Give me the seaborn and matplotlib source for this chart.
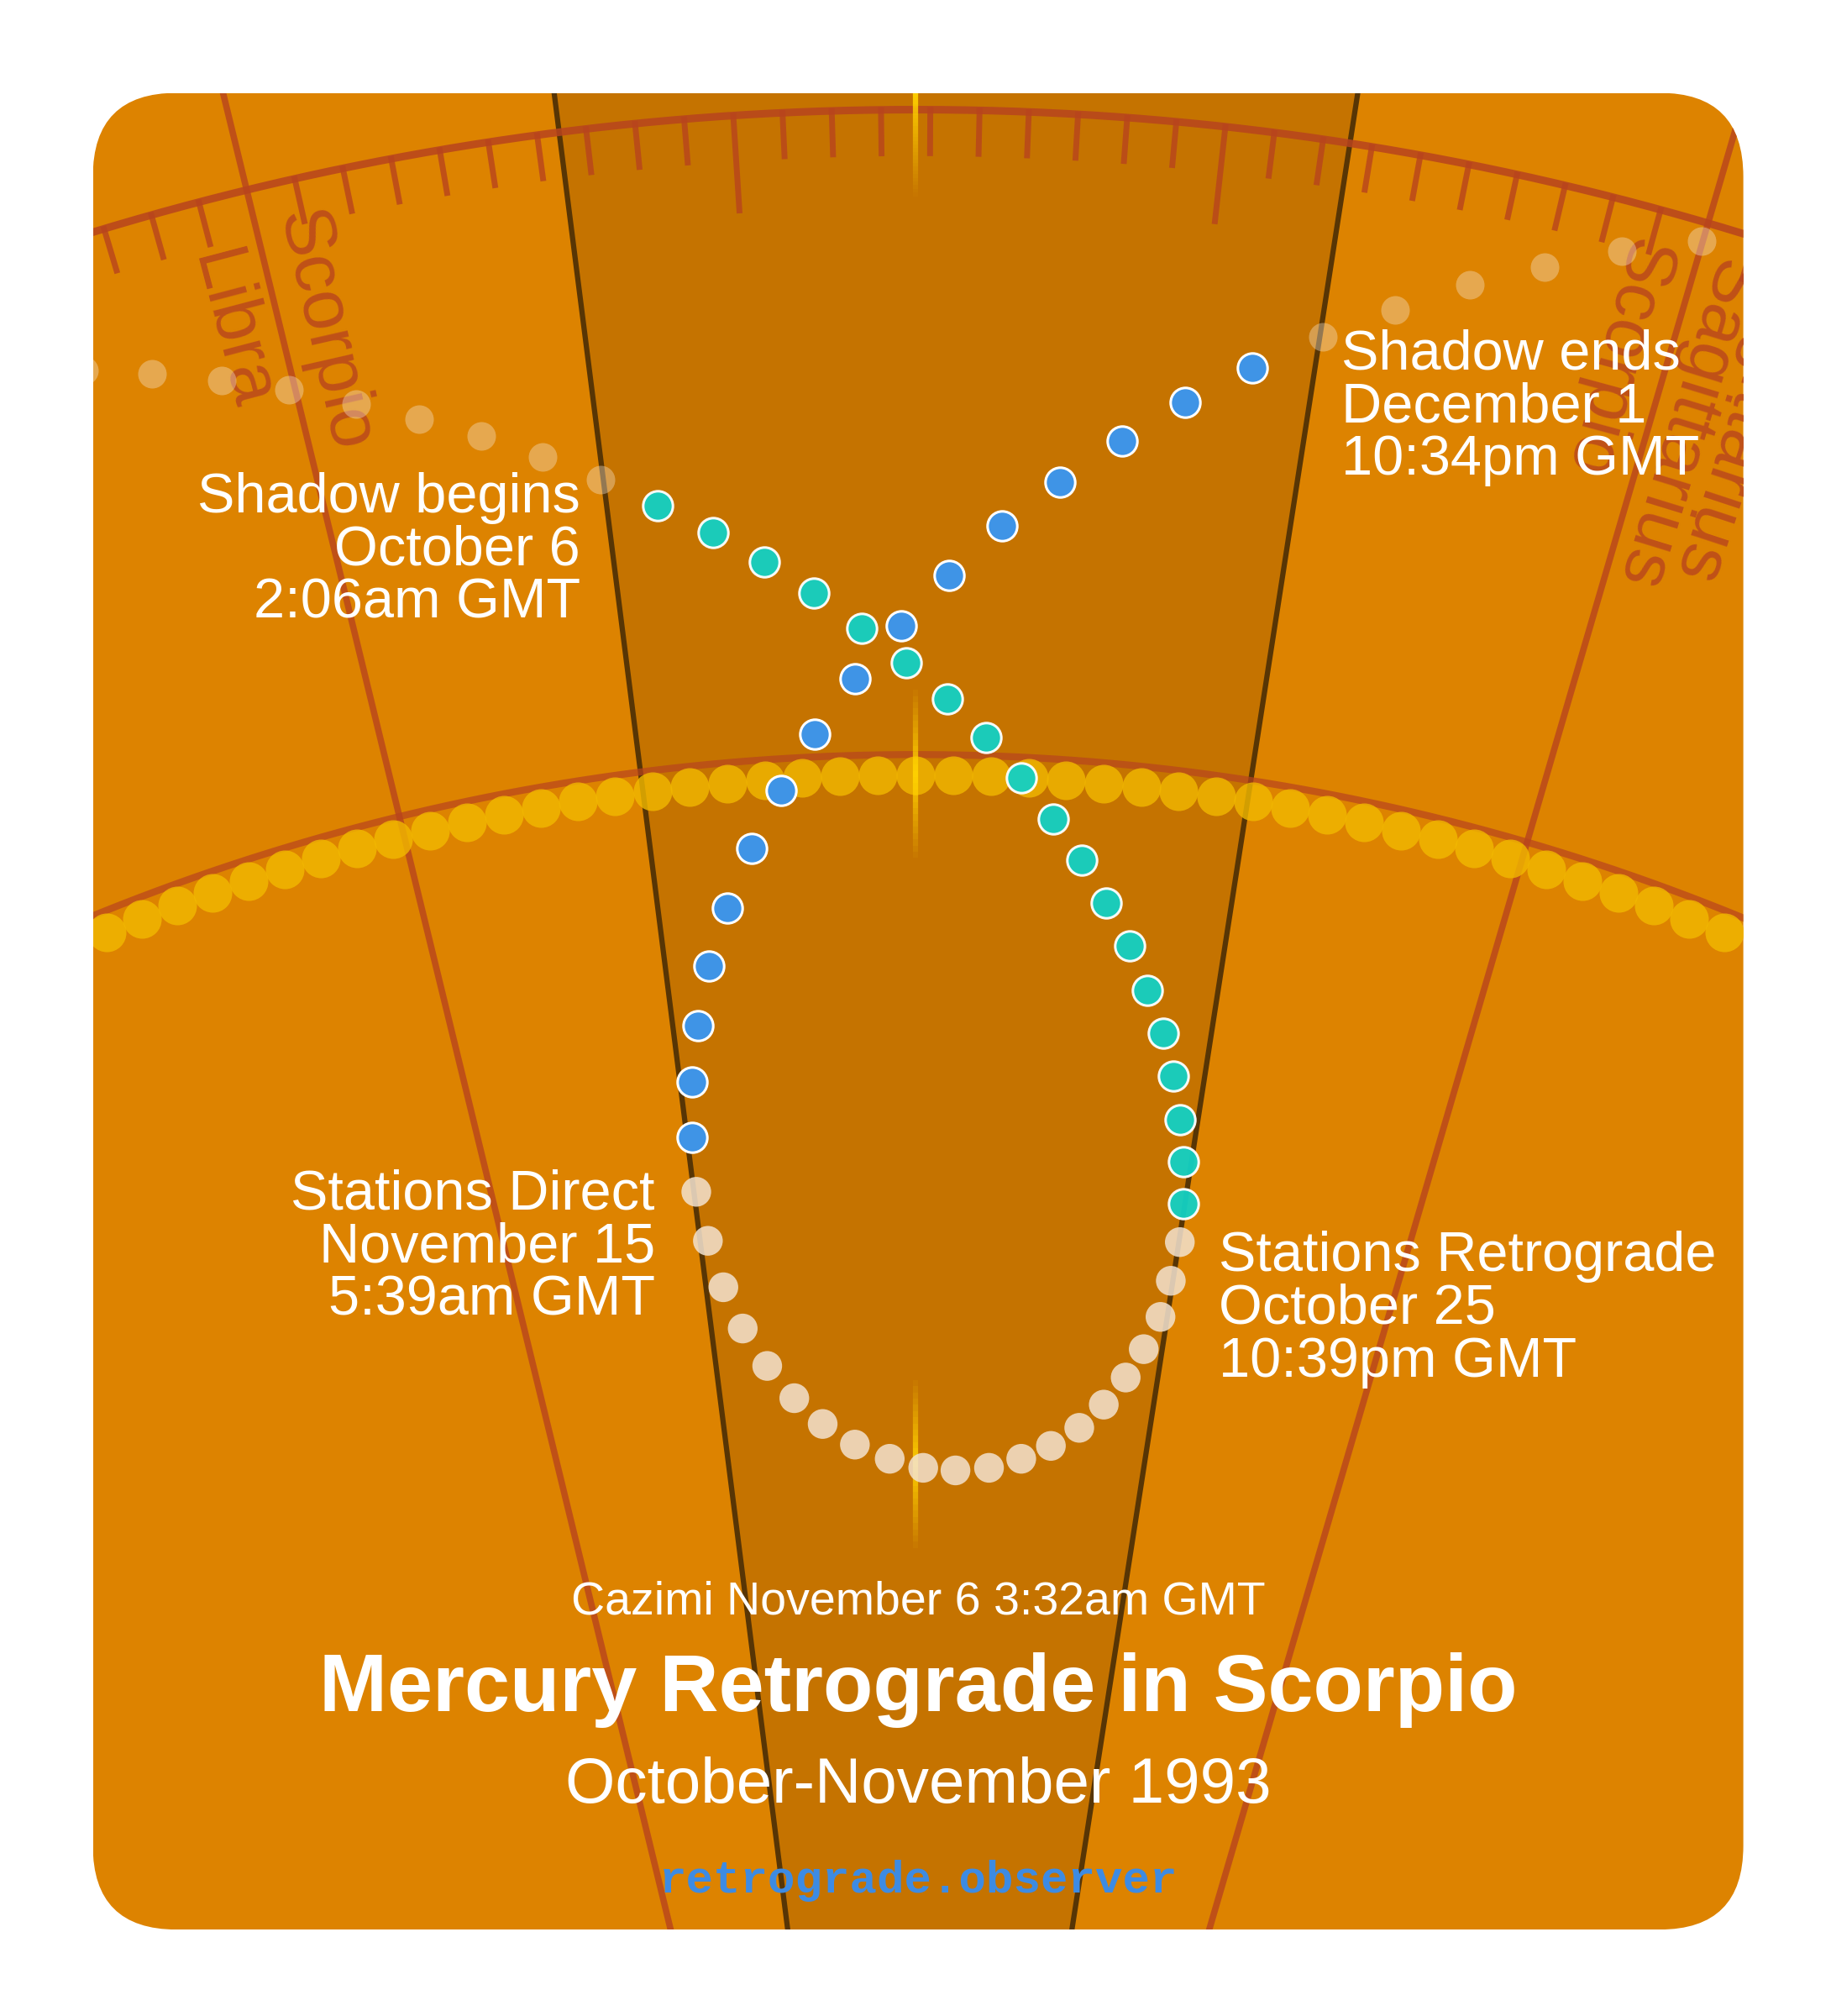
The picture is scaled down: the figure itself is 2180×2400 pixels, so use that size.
import numpy as np
import pandas as pd
import matplotlib
matplotlib.use("Agg")
import matplotlib.pyplot as plt
import seaborn as sns
from matplotlib.patches import FancyBboxPatch, Polygon, PathPatch
from matplotlib.path import Path

# ---------------- data (picture coordinates, y down) ----------------
pre_x = [65, 118, 172, 224, 276, 325, 373, 421, 466]
pre_y = [287, 290, 295, 302, 313, 325, 338, 354, 372]
post_x = [1026, 1082, 1140, 1198, 1258, 1320]
post_y = [261, 240, 221, 207, 195, 187]
shadow_in_x = [510, 553, 593, 631, 668, 703, 735, 765, 792, 817, 839, 858, 876, 890, 902, 910, 915, 918, 918]
shadow_in_y = [392, 413, 436, 460, 487, 514, 542, 572, 603, 635, 667, 700, 733, 768, 801, 834, 868, 901, 933]
retro_x = [915, 908, 900, 887, 873, 856, 837, 815, 792, 767, 741, 716, 690, 663, 638, 616, 595, 576, 561, 549, 540]
retro_y = [963, 993, 1021, 1046, 1068, 1089, 1107, 1121, 1131, 1138, 1140, 1138, 1131, 1120, 1104, 1084, 1059, 1030, 998, 962, 924]
shadow_out_x = [537, 537, 541, 550, 564, 583, 606, 632, 663, 699, 736, 777, 822, 870, 919, 971]
shadow_out_y = [882, 839, 795, 749, 704, 658, 613, 569, 526, 485, 446, 408, 374, 342, 312, 285]
sun_lon = [-22, -21, -20, -19, -18, -17, -16, -15, -14, -13, -12, -11, -10, -9, -8, -7, -6, -5, -4, -3,
           -2, -1, 0, 1, 2, 3, 4, 5, 6, 7, 8, 9, 10, 11, 12, 13, 14, 15, 16, 17, 18, 19, 20, 21, 22]
sign_bounds = [-13.7, 16.3]
sign_labels = [("Libra", -13.7, -1.05, 2150), ("Scorpio", -13.7, 0.9, 2165),
               ("Scorpio", 16.3, -1.1, 2165), ("Sagittarius", 16.3, 0.75, 2168),
               ("Sagittarius", 16.3, 1.95, 2185)]
shadow_bounds = [-7.25, 8.85]

labels = [
    ("Shadow begins\nOctober 6\n2:06am GMT", 450, 366, "right"),
    ("Shadow ends\nDecember 1\n10:34pm GMT", 1040, 255, "left"),
    ("Stations Direct\nNovember 15\n5:39am GMT", 508, 906, "right"),
    ("Stations Retrograde\nOctober 25\n10:39pm GMT", 945, 954, "left"),
]
cazimi_text = "Cazimi November 6 3:32am GMT"
title = "Mercury Retrograde in Scorpio"
subtitle = "October-November 1993"
site = "retrograde.observer"

# ---------------- geometry helpers ----------------
CX, CY = 710, 2275
def polar(theta_deg, r):
    t = np.radians(np.asarray(theta_deg, float))
    return CX + r * np.sin(t), CY - r * np.cos(t)

W, H = 1420, 1563
sns.set_theme(style="white")
plt.rcParams['font.family'] = ['Liberation Sans', 'DejaVu Sans']
fig = plt.figure(figsize=(21.8, 24), dpi=100)
ax = fig.add_axes([0, 0, 1, 1])
ax.set_xlim(0, W)
ax.set_ylim(H, 0)
ax.axis("off")
fig.patch.set_facecolor("white")

card = FancyBboxPatch((72, 72), 1280, 1424, boxstyle="round,pad=0,rounding_size=65",
                      fc="#DD8300", ec="none", zorder=0)
ax.add_patch(card)

def clip(a):
    a.set_clip_on(True)
    a.set_clip_path(card)
    return a

# shadow wedge
lx0, ly0 = polar(shadow_bounds[0], 2400); lx1, ly1 = polar(shadow_bounds[0], 500)
rx0, ry0 = polar(shadow_bounds[1], 2400); rx1, ry1 = polar(shadow_bounds[1], 500)
wedge = Polygon([(lx0, ly0), (rx0, ry0), (rx1, ry1), (lx1, ly1)], closed=True, fc="#C57300", ec="none", zorder=1)
ax.add_patch(wedge); clip(wedge)
for b in shadow_bounds:
    x, y = polar([b, b], [2400, 500])
    clip(ax.plot(x, y, color="#573505", lw=4.5, zorder=2, solid_capstyle="butt")[0])

red = "#B8441E"
# zodiac arc and ticks
th = np.linspace(-25, 25, 400)
x, y = polar(th, 2190)
clip(ax.plot(x, y, color=red, lw=6.5, alpha=0.85, zorder=3)[0])
for k in range(-12, 40):
    d = sign_bounds[0] + k
    if abs(d) > 24 or k % 30 == 0:
        continue
    ln = 78 if k % 10 == 0 else 38
    x, y = polar([d, d], [2192, 2192 - ln])
    clip(ax.plot(x, y, color=red, lw=5, alpha=0.8, zorder=3, solid_capstyle="butt")[0])
for b in sign_bounds:
    x, y = polar([b, b], [2300, 0])
    clip(ax.plot(x, y, color=red, lw=5.5, alpha=0.8, zorder=3)[0])
for name, b, off, r0 in sign_labels:
    t = b + off
    x, y = polar(t, r0)
    ax.text(x, y, name, rotation=-90 - t, rotation_mode="anchor", ha="left", va="center",
            fontsize=62, color=red, alpha=0.8, zorder=3)

# ecliptic
x, y = polar(th, 1690)
clip(ax.plot(x, y, color=red, lw=6, alpha=0.7, zorder=3)[0])

# sun path
sx, sy = polar(sun_lon, 1674)
sun_df = pd.DataFrame({"x": sx, "y": sy})
sns.scatterplot(data=sun_df, x="x", y="y", ax=ax, s=1100, color="#F2B900", alpha=0.8,
                linewidth=0, zorder=4, legend=False)

# cazimi markers
for y0, y1, mode in [(72, 155, "down"), (530, 670, "mid"), (1065, 1205, "mid")]:
    ys = np.linspace(y0, y1, 30)
    for i in range(len(ys) - 1):
        f = i / (len(ys) - 2)
        a = (1 - f) if mode == "down" else (1 - abs(2 * f - 1))
        clip(ax.plot([710, 710], [ys[i], ys[i + 1]], color="#FFD200", lw=4.5, alpha=0.95 * a,
                     zorder=5, solid_capstyle="butt")[0])

# mercury
faint = pd.DataFrame({"x": pre_x + post_x, "y": pre_y + post_y})
clip(ax.scatter(faint.x, faint.y, s=600, color="#F6E6D2", alpha=0.38, linewidths=0, zorder=6))
groups = [(shadow_in_x, shadow_in_y, "#12D1C4", "white", 0.95),
          (retro_x, retro_y, "#F3E3D0", "none", 0.85),
          (shadow_out_x, shadow_out_y, "#3F94E6", "white", 1.0)]
for gx, gy, c, ec, al in groups:
    df = pd.DataFrame({"x": gx, "y": gy})
    sns.scatterplot(data=df, x="x", y="y", ax=ax, s=650, color=c, alpha=al,
                    edgecolor=ec, linewidth=2.2 if ec != "none" else 0, zorder=7, legend=False)
ax.set_xlim(0, W); ax.set_ylim(H, 0)
ax.set_xlabel(""); ax.set_ylabel("")

# white mask outside the card (hides overflowing zodiac labels)
cp = card.get_path().transformed(card.get_patch_transform())
outer = Path([(-10, -10), (W + 10, -10), (W + 10, H + 10), (-10, H + 10), (-10, -10)],
             [Path.MOVETO, Path.LINETO, Path.LINETO, Path.LINETO, Path.CLOSEPOLY])
inner_v = cp.vertices[::-1]
inner_c = cp.codes.copy() if cp.codes is not None else None
inner = Path(cp.vertices, cp.codes).deepcopy()
mask_path = Path.make_compound_path(outer, Path(inner.vertices[::-1]))
ax.add_patch(PathPatch(mask_path, fc="white", ec="none", zorder=8))

for txt, x, y, ha in labels:
    ax.text(x, y, txt, ha=ha, va="top", multialignment=ha, fontsize=48, color="white",
            linespacing=1.02, zorder=9)
ax.text(712, 1242, cazimi_text, ha="center", va="center", fontsize=40, color="white", zorder=9)
ax.text(712, 1310, title, ha="center", va="center", fontsize=70, fontweight="bold", color="white", zorder=9)
ax.text(712, 1385, subtitle, ha="center", va="center", fontsize=55, color="white", zorder=9)
ax.text(712, 1458, site, ha="center", va="center", fontsize=39, fontweight="bold", color="#3D8BE3",
        family=["Liberation Mono", "DejaVu Sans Mono"], zorder=9)

fig.savefig("out.png", dpi=100, facecolor="white")
